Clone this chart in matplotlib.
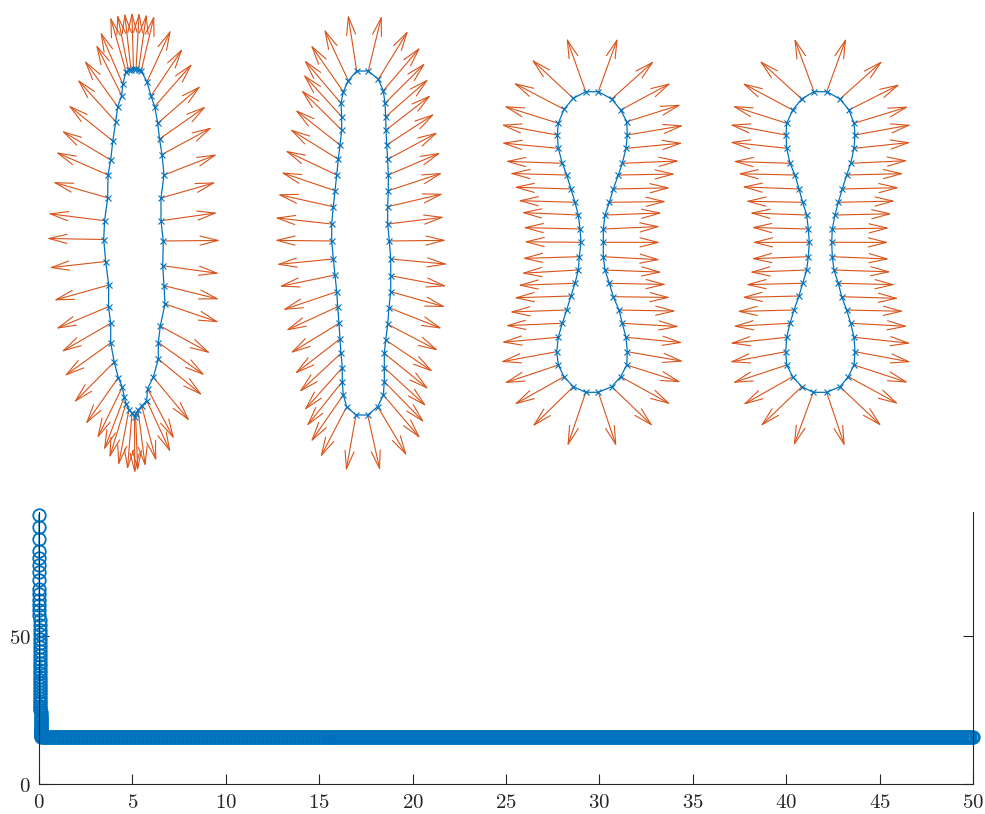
import numpy as np
import matplotlib
matplotlib.use("Agg")
import matplotlib.pyplot as plt

# contour points of the four shapes (pixel-like units, y down)
shape1 = [(126.0, 71.7), (128.5, 70.3), (131.0, 69.5), (133.5, 69.0), (136.0, 69.3),
          (138.5, 70.2), (141.2, 71.0), (147.0, 81.7), (151.0, 96.0), (154.7, 106.5),
          (157.7, 123.3), (159.5, 139.0), (162.0, 154.5), (164.0, 175.0), (161.0, 198.0),
          (161.0, 220.7), (163.3, 241.0), (162.7, 265.7), (164.0, 285.7), (165.0, 304.0),
          (160.3, 326.0), (158.3, 342.5), (158.3, 359.0), (153.3, 377.2), (147.5, 388.7),
          (146.7, 400.5), (141.7, 406.0), (138.0, 410.0), (135.5, 414.0), (134.5, 416.5),
          (132.0, 413.0), (129.0, 409.5), (126.0, 403.5), (124.3, 397.0), (122.3, 387.2),
          (118.3, 377.5), (114.2, 362.0), (110.7, 342.8), (110.7, 323.3), (108.5, 306.7),
          (108.7, 285.0), (105.7, 261.5), (103.7, 239.5), (104.6, 220.7), (107.7, 197.8),
          (108.0, 175.0), (110.7, 160.0), (112.8, 141.0), (115.7, 121.7), (117.7, 106.7),
          (121.7, 95.5), (122.8, 84.2)]

shape2 = [(356.7, 71.0), (368.3, 71.0), (378.3, 79.3), (383.3, 90.7), (385.0, 103.3),
          (385.7, 116.7), (386.0, 130.0), (386.7, 145.0), (387.7, 159.3), (388.3, 175.0),
          (388.3, 190.7), (387.7, 206.7), (387.7, 224.0), (389.3, 241.0), (390.7, 259.0),
          (390.7, 275.7), (390.7, 291.7), (389.0, 307.7), (387.7, 324.3), (385.7, 340.0),
          (384.3, 353.3), (384.3, 367.7), (384.3, 381.7), (383.3, 395.0), (377.7, 406.7),
          (367.7, 415.0), (356.0, 415.0), (346.7, 406.7), (343.3, 395.0), (342.3, 381.7),
          (342.3, 367.7), (341.0, 353.3), (340.0, 339.0), (339.0, 323.3), (337.7, 306.7),
          (336.7, 291.7), (335.0, 275.0), (333.3, 259.0), (331.7, 241.0), (331.7, 224.0),
          (333.3, 206.7), (335.0, 190.7), (336.7, 175.0), (338.3, 159.3), (340.0, 145.0),
          (341.7, 130.0), (341.7, 116.7), (341.0, 103.3), (343.3, 91.7), (348.3, 80.7)]

shape3 = [(585.7, 91.7), (598.3, 91.7), (611.7, 99.0), (620.7, 110.0), (626.7, 121.7),
          (627.3, 135.0), (626.0, 148.3), (622.3, 163.3), (618.3, 175.0), (613.3, 189.0),
          (609.3, 202.3), (605.0, 215.0), (603.3, 229.0), (603.3, 242.3), (603.3, 256.7),
          (605.0, 270.0), (609.3, 283.3), (613.3, 296.7), (619.0, 310.0), (622.3, 323.3),
          (626.0, 337.3), (627.3, 351.7), (626.7, 365.0), (620.7, 376.7), (611.7, 386.7),
          (598.3, 392.3), (585.7, 392.3), (573.3, 386.7), (564.0, 376.7), (558.3, 365.0),
          (556.7, 351.7), (558.3, 337.3), (562.3, 323.3), (566.7, 310.0), (571.0, 296.0),
          (575.0, 283.3), (578.3, 270.0), (579.3, 256.7), (581.0, 242.3), (580.0, 229.0),
          (578.3, 215.0), (575.0, 202.3), (571.0, 189.0), (566.7, 175.0), (562.3, 163.3),
          (558.3, 148.3), (557.3, 135.0), (558.3, 123.3), (564.0, 109.3), (573.3, 98.3)]

shape4 = [(814.0, 91.7), (826.7, 91.7), (840.0, 99.0), (849.0, 110.0), (854.0, 123.3),
          (855.0, 135.0), (854.0, 148.3), (850.7, 163.3), (846.7, 175.0), (842.3, 189.0),
          (838.3, 202.3), (835.0, 215.0), (832.3, 229.0), (831.7, 242.3), (832.3, 256.7),
          (834.0, 270.0), (838.3, 283.3), (841.7, 296.7), (846.7, 310.0), (850.7, 323.3),
          (854.0, 337.3), (855.0, 351.7), (854.0, 365.0), (848.3, 376.7), (840.0, 386.7),
          (826.7, 392.3), (813.3, 392.3), (801.7, 386.7), (792.7, 376.7), (786.7, 365.0),
          (785.7, 351.7), (786.7, 337.3), (790.0, 323.3), (794.0, 310.0), (799.0, 296.0),
          (802.7, 283.3), (806.7, 270.0), (808.3, 256.7), (809.3, 242.3), (808.3, 229.0),
          (806.7, 215.0), (802.7, 202.3), (799.0, 189.0), (795.0, 175.0), (790.0, 163.3),
          (786.7, 148.3), (786.0, 135.0), (786.7, 123.3), (792.7, 110.0), (801.7, 99.0)]

shapes = [shape1, shape2, shape3, shape4]
# how the arrow directions look: vertical squash of the radial direction, and
# share of the local curve normal mixed in
squash = [0.17, 0.17, 0.10, 0.10]
local_share = [0.0, 0.0, 0.4, 0.4]
arrow_len = 57.0

# energy curve (bottom panel)
spike_energy = [91.0, 86.9, 83.0, 78.8, 76.3, 74.0, 71.7, 68.9, 66.1, 64.4, 62.2, 60.5,
                58.8, 57.1, 55.4, 53.7, 52.2, 50.7, 49.2, 47.8, 46.4, 45.0, 43.6, 42.3,
                41.0, 39.8, 38.6, 37.4, 36.2, 35.1, 34.0, 33.0, 32.0, 31.0, 30.0, 29.1,
                28.2, 27.3, 26.5, 25.7, 24.9, 24.2, 23.5, 22.8, 22.2, 21.6, 21.0, 20.5,
                20.0, 19.5, 19.1, 18.7, 18.3, 17.9, 17.6, 17.3, 17.0, 16.8, 16.6, 16.4, 16.2]
spike_time = np.linspace(0.0, 0.12, len(spike_energy))
plateau_energy = 16.0
plateau_time = np.linspace(0.12, 50.0, 700)

blue = "#0072BD"
orange = "#D95319"
axcol = "#262626"

plt.rcParams["mathtext.fontset"] = "cm"


def unit(v):
    return v / np.linalg.norm(v, axis=1)[:, None]


def arrow_dirs(p, s, w):
    cx = (p[:, 0].min() + p[:, 0].max()) / 2
    cy = (p[:, 1].min() + p[:, 1].max()) / 2
    rad = unit(np.column_stack([p[:, 0] - cx, s * (p[:, 1] - cy)]))
    t = np.roll(p, -1, axis=0) - np.roll(p, 1, axis=0)
    loc = unit(np.column_stack([t[:, 1], -t[:, 0]]))
    if np.mean(np.sum(loc * rad, axis=1)) < 0:
        loc = -loc
    return unit(w * loc + (1 - w) * rad)


fig = plt.figure(figsize=(9.85, 8.14), dpi=100)

# ---- top: shapes with arrows
ax = fig.add_axes([0, 1 - 480 / 814, 1, 480 / 814])
ax.set_xlim(0, 985)
ax.set_ylim(480, 0)
ax.axis("off")

for pts, s, w in zip(shapes, squash, local_share):
    p = np.array(pts)
    n = arrow_dirs(p, s, w)
    for (x0, y0), (nx, ny) in zip(p, n):
        ax.annotate("", xy=(x0 + arrow_len * nx, y0 + arrow_len * ny), xytext=(x0, y0),
                    arrowprops=dict(arrowstyle="->,head_length=1.3,head_width=0.33",
                                    color=orange, lw=0.8, shrinkA=0, shrinkB=0))
    closed = np.vstack([p, p[:1]])
    ax.plot(closed[:, 0], closed[:, 1], "-", color=blue, lw=0.9, zorder=3)
    ax.plot(p[:, 0], p[:, 1], "x", color=blue, ms=4, mew=0.8, zorder=4)

# ---- bottom: energy
ax2 = fig.add_axes([39 / 985, 30 / 814, 934 / 985, 272 / 814])
t_all = np.concatenate([spike_time, plateau_time])
e_all = np.concatenate([spike_energy, np.full(len(plateau_time), plateau_energy)])
ax2.plot(t_all, e_all, "o-", color=blue, mfc="none", ms=9, mew=1.3, lw=1.0, clip_on=False)
ax2.set_xlim(0, 50)
ax2.set_ylim(0, 92)
ax2.set_xticks(range(0, 51, 5))
ax2.set_xticklabels([r"$%d$" % v for v in range(0, 51, 5)])
ax2.set_yticks([0, 50])
ax2.set_yticklabels([r"$0$", r"$50$"])
ax2.spines["top"].set_visible(False)
for s in ["left", "bottom", "right"]:
    ax2.spines[s].set_color(axcol)
    ax2.spines[s].set_linewidth(0.8)
ax2.tick_params(direction="in", length=7, width=0.8, color=axcol, labelcolor=axcol,
                labelsize=15, right=True, top=False)
ax2.tick_params(axis="x", pad=6)
ax2.tick_params(axis="y", pad=6)

fig.savefig("out.png", dpi=100)
